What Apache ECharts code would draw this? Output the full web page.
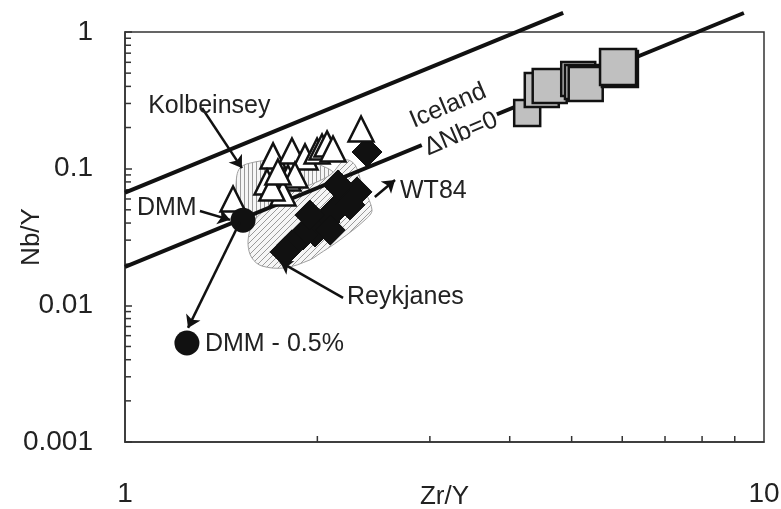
<!DOCTYPE html>
<html>
<head>
<meta charset="utf-8">
<script src="https://cdn.jsdelivr.net/npm/echarts@6/dist/echarts.min.js"></script>
<style>html,body{margin:0;padding:0;background:#fff}#c{width:781px;height:509px}</style>
</head>
<body>
<div id="c"></div>
<script>
// ---- data ----
const xTicks = [1, 10];
const yTicks = [0.001, 0.01, 0.1, 1];
const xMinor = [2, 3, 4, 5, 6, 7, 8, 9];
const yMinor = [0.002,0.003,0.004,0.005,0.006,0.007,0.008,0.009,0.02,0.03,0.04,0.05,0.06,0.07,0.08,0.09,0.2,0.3,0.4,0.5,0.6,0.7,0.8,0.9];

// Kolbeinsey samples (triangles)
const kolbZrY = [1.476, 1.705, 1.825, 1.913, 1.998, 2.034, 2.071, 2.116, 2.341, 1.668, 1.799, 1.845, 1.767, 1.698, 1.735];
const kolbNbY = [0.060, 0.124, 0.1347, 0.1219, 0.1347, 0.1442, 0.1517, 0.1393, 0.1952, 0.0799, 0.0855, 0.0899, 0.0664, 0.0722, 0.0946];
// Reykjanes samples (diamonds)
const reykZrY = [2.392, 2.307, 2.21, 2.132, 2.249, 2.056, 1.983, 1.899, 1.947, 1.825, 1.78, 2.154, 2.094];
const reykNbY = [0.1324, 0.0676, 0.059, 0.0499, 0.0543, 0.0407, 0.0344, 0.0327, 0.0458, 0.0277, 0.0246, 0.076, 0.0356];
// Iceland samples (squares)
const iceZrY = [4.26, 4.49, 4.62, 5.12, 5.19, 5.26, 5.95, 5.91];
const iceNbY = [0.255, 0.376, 0.403, 0.453, 0.431, 0.417, 0.536, 0.555];
const iceSize = [26, 34, 34, 34, 34, 34, 36, 36];
// DMM points
const dmmZrY = [1.53, 1.25];
const dmmNbY = [0.042, 0.0053];

// Iceland array boundary lines (delta Nb)
const upperLineZrY = [1, 4.85];
const upperLineNbY = [0.0667, 1.38];
const lowerLineZrY = [1, 9.3];
const lowerLineNbY = [0.0191, 1.377];

// Fields
const kolbFieldZrY = [1.513,1.597,1.717,1.878,2.019,2.132,2.094,1.947,1.812,1.686,1.597,1.541,1.502,1.492];
const kolbFieldNbY = [0.1012,0.1119,0.1158,0.1158,0.1064,0.0899,0.0642,0.0543,0.0458,0.0387,0.0344,0.0387,0.0543,0.076];
const reykFieldZrY = [1.569,1.558,1.580,1.638,1.780,1.947,2.004,2.17,2.375,2.435,2.349,2.291,2.21,2.094,1.947,1.780,1.656,1.597];
const reykFieldNbY = [0.0356,0.0277,0.0222,0.0194,0.0188,0.0215,0.0234,0.0301,0.0422,0.0499,0.076,0.1064,0.1158,0.0899,0.076,0.0642,0.0499,0.0422];

// Arrows
const arrowFromZrY = [1.32, 1.31, 1.513, 2.194, 2.46];
const arrowFromNbY = [0.278, 0.049, 0.0407, 0.01133, 0.062];
const arrowToZrY   = [1.524, 1.46, 1.255, 1.748, 2.646];
const arrowToNbY   = [0.101, 0.0422, 0.00684, 0.0208, 0.0827];

// Annotations
const noteText = ['Kolbeinsey', 'DMM', 'WT84', 'Reykjanes', 'DMM - 0.5%', 'Iceland', '\u0394Nb=0'];
const noteZrY  = [1.087, 1.044, 2.694, 2.226, 1.334, 3.203, 3.357];
const noteNbY  = [0.2875, 0.0516, 0.0687, 0.01151, 0.00522, 0.2875, 0.1794];
const noteAlign = ['left', 'left', 'left', 'left', 'left', 'center', 'center'];
const noteRot  = [0, 0, 0, 0, 0, 23, 23];

// ---- chart ----
const FONT = '"Liberation Sans", Arial, sans-serif';
function pattern(kind) {
  const c = document.createElement('canvas');
  const s = kind === 'v' ? 4 : 6;
  c.width = s; c.height = s;
  const g = c.getContext('2d');
  g.fillStyle = '#f6f6f6'; g.fillRect(0, 0, s, s);
  g.strokeStyle = '#9a9a9a'; g.lineWidth = 1;
  g.beginPath();
  if (kind === 'v') { g.moveTo(0.5, 0); g.lineTo(0.5, s); }
  else { g.moveTo(-1, s + 1); g.lineTo(s + 1, -1); g.moveTo(-1, 1); g.lineTo(1, -1); g.moveTo(s - 1, s + 1); g.lineTo(s + 1, s - 1); }
  g.stroke();
  return { type: 'pattern', image: c, repeat: 'repeat' };
}
const zip = (a, b) => a.map((v, i) => [v, b[i]]);

function fieldSeries(xs, ys, kind) {
  return {
    type: 'custom', z: 1, silent: true, clip: false,
    data: [[xs[0], ys[0]]],
    renderItem: (params, api) => ({
      type: 'polygon',
      shape: { points: xs.map((x, i) => api.coord([x, ys[i]])), smooth: 0.35 },
      style: { fill: pattern(kind), stroke: '#a0a0a0', lineWidth: 1 }
    })
  };
}

const chart = echarts.init(document.getElementById('c'), null, { renderer: 'canvas' });
chart.setOption({
  animation: false,
  backgroundColor: '#fff',
  grid: { left: 125, right: 17, top: 32, bottom: 67, show: true, borderColor: '#333', borderWidth: 1.5,
    containLabel: false, outerBoundsMode: 'none' },
  xAxis: {
    type: 'log', logBase: 10, min: xTicks[0], max: xTicks[1],
    name: 'Zr/Y', nameLocation: 'middle', nameGap: 42, nameMoveOverlap: false,
    nameTextStyle: { fontFamily: FONT, fontSize: 26, color: '#222' },
    axisLine: { show: true, lineStyle: { color: '#333', width: 1.5 } },
    axisTick: { show: false },
    splitLine: { show: false },
    axisLabel: { fontFamily: FONT, fontSize: 28, color: '#222', margin: 38 }
  },
  yAxis: {
    type: 'log', logBase: 10, min: yTicks[0], max: yTicks[3],
    name: 'Nb/Y', nameLocation: 'middle', nameGap: 80, nameMoveOverlap: false,
    nameTextStyle: { fontFamily: FONT, fontSize: 26, color: '#222' },
    axisLine: { show: true, lineStyle: { color: '#333', width: 1.5 } },
    axisTick: { show: true, inside: true, length: 7, lineStyle: { color: '#333', width: 1.5 } },
    splitLine: { show: false },
    axisLabel: { fontFamily: FONT, fontSize: 28, color: '#222', margin: 32,
      formatter: v => String(+v.toPrecision(3)) }
  },
  series: [
    fieldSeries(kolbFieldZrY, kolbFieldNbY, 'v'),
    fieldSeries(reykFieldZrY, reykFieldNbY, 'd'),
    { type: 'custom', z: 2, silent: true, clip: false, data: xMinor.map(v => [v, yTicks[0]]),
      renderItem: (p, api) => { const q = api.coord([api.value(0), api.value(1)]);
        return { type: 'line', shape: { x1: q[0], y1: q[1], x2: q[0], y2: q[1] - 6 }, style: { stroke: '#333', lineWidth: 1.5 } }; } },
    { type: 'custom', z: 2, silent: true, clip: false, data: yMinor.map(v => [xTicks[0], v]),
      renderItem: (p, api) => { const q = api.coord([api.value(0), api.value(1)]);
        return { type: 'line', shape: { x1: q[0], y1: q[1], x2: q[0] + 6, y2: q[1] }, style: { stroke: '#333', lineWidth: 1.5 } }; } },
    { type: 'line', z: 3, clip: false, symbol: 'none', data: zip(upperLineZrY, upperLineNbY), lineStyle: { color: '#111', width: 4 } },
    { type: 'line', z: 3, clip: false, symbol: 'none', data: zip(lowerLineZrY, lowerLineNbY), lineStyle: { color: '#111', width: 4 } },
    { type: 'scatter', z: 4, symbol: 'diamond', symbolSize: 30, data: zip(reykZrY, reykNbY),
      itemStyle: { color: '#111', borderColor: '#111', borderWidth: 1, opacity: 1 } },
    { type: 'scatter', z: 5, symbol: 'triangle', symbolSize: 25, data: zip(kolbZrY, kolbNbY),
      itemStyle: { color: '#fff', borderColor: '#111', borderWidth: 2.5, opacity: 1 } },
    { type: 'scatter', z: 6, symbol: 'circle', symbolSize: 25, data: zip(dmmZrY, dmmNbY),
      itemStyle: { color: '#111', opacity: 1 } },
    { type: 'scatter', z: 6, symbol: 'rect', data: zip(iceZrY, iceNbY).map((d, i) => ({ value: d, symbolSize: iceSize[i] })),
      itemStyle: { color: '#c0c0c0', borderColor: '#111', borderWidth: 2.5, opacity: 1 } },
    { type: 'lines', coordinateSystem: 'cartesian2d', z: 7, symbol: ['none', 'arrow'], symbolSize: 12,
      lineStyle: { color: '#111', width: 2.5, opacity: 1 },
      data: arrowFromZrY.map((x, i) => ({ coords: [[x, arrowFromNbY[i]], [arrowToZrY[i], arrowToNbY[i]]] })) },
    { type: 'custom', z: 8, silent: true, clip: false,
      data: noteText.map((t, i) => [noteZrY[i], noteNbY[i], i]),
      renderItem: (p, api) => {
        const i = api.value(2); const q = api.coord([api.value(0), api.value(1)]);
        return { type: 'text', x: q[0], y: q[1], rotation: noteRot[i] * Math.PI / 180,
          style: { text: noteText[i], fontFamily: FONT, fontSize: 25, fill: '#222', align: noteAlign[i], verticalAlign: 'middle',
            backgroundColor: noteRot[i] ? '#fff' : null, padding: noteRot[i] ? [0, 2] : 0 } };
      } }
  ]
});
</script>
</body>
</html>
